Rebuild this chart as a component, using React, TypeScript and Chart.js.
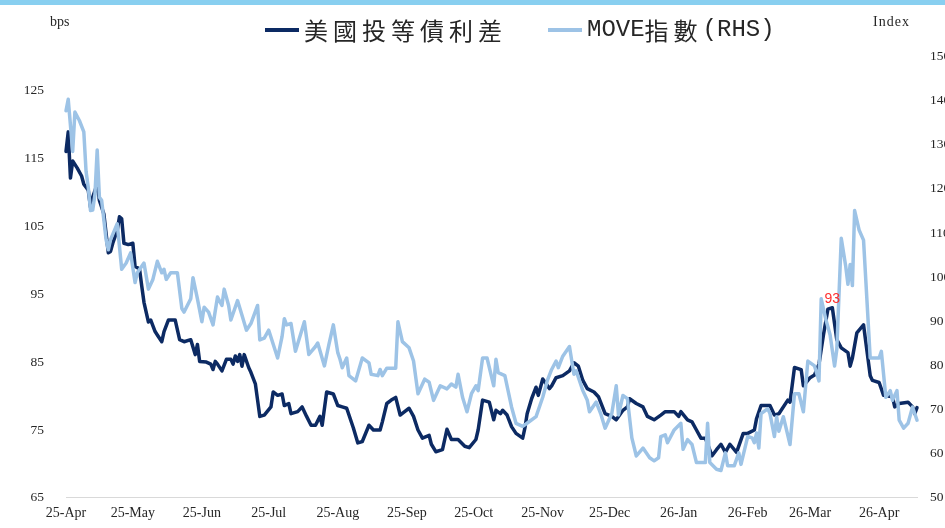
import React, { useEffect, useRef } from 'react';
import { Chart, registerables } from 'chart.js';

Chart.register(...registerables);

// x positions are days since 2025-04-01
const monthTickDays = [0, 30, 61, 91, 122, 153, 183, 214, 244, 275, 306, 334, 365];
const monthTickLabels = ['25-Apr', '25-May', '25-Jun', '25-Jul', '25-Aug', '25-Sep', '25-Oct', '25-Nov', '25-Dec', '26-Jan', '26-Feb', '26-Mar', '26-Apr'];
const leftTicks = [65, 75, 85, 95, 105, 115, 125];
const rightTicks = [50, 60, 70, 80, 90, 100, 110, 120, 130, 140, 150];

const spreadLabel = '美國投等債利差';
const spreadDays = [0, 1, 2, 3, 5, 7, 8, 10, 11, 12, 14, 15, 17, 18, 19, 20, 21, 23, 24, 25, 26, 28, 30, 31, 33, 34, 35, 37, 38, 40, 41, 43, 44, 46, 49, 51, 53, 56, 58, 59, 60, 63, 65, 66, 67, 68, 70, 72, 74, 75, 76, 77, 78, 79, 80, 82, 83, 85, 86, 87, 89, 92, 93, 95, 97, 98, 100, 101, 104, 106, 108, 110, 112, 114, 115, 117, 120, 122, 124, 126, 129, 131, 133, 136, 138, 141, 142, 144, 146, 148, 150, 152, 154, 156, 158, 160, 163, 164, 166, 169, 170, 171, 173, 176, 179, 181, 184, 185, 187, 190, 192, 193, 195, 196, 198, 200, 202, 205, 206, 207, 209, 211, 212, 214, 217, 218, 220, 223, 226, 228, 230, 232, 234, 237, 239, 242, 245, 247, 250, 252, 253, 256, 259, 261, 264, 267, 269, 273, 275, 276, 279, 281, 283, 285, 287, 290, 292, 294, 296, 298, 301, 304, 306, 309, 310, 312, 316, 318, 320, 324, 325, 327, 330, 331, 334, 336, 338, 340, 342, 344, 346, 348, 351, 352, 353, 355, 358, 359, 361, 362, 365, 367, 371, 372, 374, 378, 380, 381, 382];
const spreadValues = [116.0, 118.9, 112.1, 114.6, 113.6, 112.4, 111.2, 110.3, 107.8, 109.3, 111.2, 108.8, 106.8, 103.9, 101.1, 101.3, 102.5, 104.4, 106.4, 106.1, 102.5, 102.3, 102.5, 99.1, 98.7, 96.2, 93.8, 90.9, 91.2, 89.5, 89.0, 88.0, 89.5, 91.2, 91.2, 88.3, 88.0, 88.3, 86.1, 87.6, 85.1, 85.0, 84.7, 83.9, 85.1, 84.7, 83.7, 85.4, 85.4, 84.7, 85.9, 85.1, 86.1, 84.4, 86.1, 84.2, 83.5, 81.8, 79.4, 77.0, 77.2, 78.4, 80.6, 80.1, 80.3, 78.6, 78.9, 77.4, 77.7, 78.4, 77.0, 75.7, 75.7, 77.0, 75.7, 80.6, 80.3, 78.6, 78.4, 78.2, 75.3, 73.1, 73.3, 75.7, 75.0, 75.0, 76.2, 78.9, 79.4, 79.8, 77.2, 77.7, 78.2, 77.0, 75.0, 73.8, 74.2, 72.9, 71.8, 72.1, 73.6, 75.1, 73.6, 73.6, 72.6, 72.4, 73.6, 75.0, 79.4, 79.1, 76.5, 77.9, 77.4, 77.9, 77.2, 75.5, 74.5, 73.8, 75.3, 77.4, 79.6, 81.3, 80.1, 82.5, 81.1, 81.5, 82.7, 83.0, 83.7, 84.9, 84.4, 82.3, 81.1, 80.6, 79.9, 77.4, 77.0, 76.5, 77.9, 78.4, 79.6, 78.9, 78.4, 77.0, 76.5, 77.2, 77.7, 77.7, 77.0, 77.7, 76.5, 76.2, 75.0, 73.8, 73.8, 71.2, 72.1, 72.9, 71.7, 72.9, 71.7, 74.5, 74.5, 75.0, 76.7, 78.6, 78.6, 77.2, 77.4, 79.4, 79.1, 84.2, 83.9, 81.5, 82.7, 83.1, 84.7, 89.0, 92.8, 93.0, 88.3, 87.1, 86.4, 84.4, 85.6, 89.3, 90.5, 88.0, 83.0, 82.3, 82.0, 80.1, 79.9, 78.4, 78.9, 79.1, 78.4, 77.4, 78.3];

const moveLabelLatin1 = 'MOVE';
const moveLabelCjk = '指數';
const moveLabelLatin2 = '(RHS)';
const moveDays = [0, 1, 3, 4, 6, 8, 9, 10, 11, 12, 13, 14, 15, 16, 18, 19, 20, 23, 25, 27, 29, 31, 32, 35, 37, 39, 41, 43, 44, 45, 47, 50, 52, 53, 56, 57, 59, 61, 62, 64, 66, 68, 70, 71, 73, 74, 77, 79, 81, 83, 86, 87, 89, 91, 95, 97, 98, 99, 101, 103, 107, 109, 112, 113, 116, 118, 120, 122, 123, 124, 126, 127, 130, 133, 136, 137, 140, 141, 142, 144, 148, 149, 151, 154, 156, 158, 161, 163, 165, 168, 171, 173, 175, 176, 178, 180, 182, 184, 185, 187, 189, 192, 193, 194, 197, 200, 202, 205, 208, 211, 214, 216, 218, 220, 221, 223, 226, 228, 229, 232, 234, 235, 238, 240, 242, 245, 247, 248, 250, 252, 254, 256, 259, 262, 264, 266, 267, 269, 270, 273, 276, 277, 279, 281, 283, 287, 288, 289, 292, 294, 296, 297, 300, 302, 303, 306, 308, 309, 310, 311, 312, 315, 316, 318, 319, 320, 322, 325, 327, 329, 331, 333, 336, 338, 339, 341, 343, 345, 346, 348, 350, 351, 352, 353, 354, 356, 358, 361, 365, 366, 368, 370, 371, 373, 374, 376, 378, 380, 382];
const moveValues = [137.7, 140.3, 128.5, 137.4, 135.5, 132.9, 124.0, 120.3, 115.1, 115.2, 118.8, 128.8, 118.1, 117.4, 108.5, 106.2, 108.5, 112.1, 101.8, 103.2, 105.5, 98.8, 101.0, 103.2, 97.3, 99.5, 103.6, 101.0, 101.8, 99.5, 101.0, 101.0, 92.9, 92.1, 95.1, 99.9, 95.1, 89.9, 93.2, 92.1, 89.2, 95.5, 93.6, 97.3, 93.6, 90.3, 94.7, 91.4, 88.0, 89.5, 93.6, 85.8, 86.2, 88.0, 81.7, 86.6, 90.6, 89.2, 89.5, 83.2, 89.9, 82.5, 84.3, 85.1, 79.9, 84.7, 89.2, 82.9, 81.4, 79.5, 81.7, 77.7, 76.5, 81.7, 80.6, 78.0, 77.7, 79.1, 77.7, 79.4, 79.4, 89.9, 85.4, 84.0, 81.0, 73.6, 76.9, 76.2, 72.1, 75.4, 74.7, 75.8, 75.1, 78.0, 72.8, 69.5, 73.6, 75.4, 74.3, 81.7, 81.7, 75.4, 81.4, 78.4, 77.7, 70.6, 66.9, 66.2, 67.3, 68.4, 72.8, 76.5, 79.1, 81.0, 79.5, 82.1, 84.3, 78.0, 78.8, 74.3, 72.1, 69.5, 71.7, 69.1, 65.8, 69.1, 75.4, 68.8, 73.2, 72.5, 63.6, 59.5, 61.3, 59.1, 58.4, 59.1, 63.9, 64.3, 62.5, 65.4, 66.9, 61.0, 63.2, 62.1, 58.0, 58.0, 66.9, 58.0, 56.5, 56.2, 60.2, 57.3, 57.3, 60.2, 57.6, 63.9, 63.6, 62.5, 64.7, 61.3, 69.1, 70.2, 69.1, 63.9, 68.4, 65.1, 68.4, 62.1, 73.6, 73.6, 69.5, 81.0, 79.9, 76.5, 95.1, 90.6, 86.9, 79.9, 83.6, 108.8, 102.5, 98.4, 102.9, 98.1, 115.1, 110.7, 108.4, 81.7, 81.7, 83.2, 72.8, 74.3, 72.1, 74.3, 67.6, 65.8, 66.9, 70.6, 67.6];

const peakLabelDay = 344;
const peakLabelText = '93';
const leftAxisTitle = 'bps';
const rightAxisTitle = 'Index';

const DARK = '#0C2A63';
const LIGHT = '#9DC3E6';
const TICK_FONT = '"Liberation Serif", "Times New Roman", serif';
const CJK_FONT = '"Noto Sans CJK TC", "Noto Sans CJK SC", sans-serif';
const MONO_FONT = '"Liberation Mono", monospace';

const peakLabelPlugin = {
  id: 'peakLabel',
  afterDatasetsDraw(chart: any) {
    const xs = chart.scales.x;
    const ys = chart.scales.y;
    const idx = spreadDays.indexOf(peakLabelDay);
    if (idx < 0) return;
    const px = xs.getPixelForValue(peakLabelDay);
    const py = ys.getPixelForValue(spreadValues[idx]);
    const ctx = chart.ctx;
    ctx.save();
    ctx.font = '14px "Liberation Sans", Arial, sans-serif';
    ctx.fillStyle = '#FF2E2E';
    ctx.textAlign = 'center';
    ctx.textBaseline = 'alphabetic';
    ctx.fillText(peakLabelText, px, py - 5);
    ctx.restore();
  },
};

export default function App() {
  const canvasRef = useRef<HTMLCanvasElement | null>(null);

  useEffect(() => {
    if (!canvasRef.current) return;
    const chart = new Chart(canvasRef.current, {
      type: 'line',
      data: {
        datasets: [
          {
            label: moveLabelLatin1 + moveLabelCjk + moveLabelLatin2,
            data: moveDays.map((d, i) => ({ x: d, y: moveValues[i] })),
            yAxisID: 'y1',
            borderColor: LIGHT,
            backgroundColor: LIGHT,
            borderWidth: 3.5,
            pointRadius: 0,
            tension: 0,
            borderJoinStyle: 'round',
            borderCapStyle: 'round',
            clip: false,
            order: 0,
          },
          {
            label: spreadLabel,
            data: spreadDays.map((d, i) => ({ x: d, y: spreadValues[i] })),
            yAxisID: 'y',
            borderColor: DARK,
            backgroundColor: DARK,
            borderWidth: 3.5,
            pointRadius: 0,
            tension: 0,
            borderJoinStyle: 'round',
            borderCapStyle: 'round',
            clip: false,
            order: 1,
          },
        ],
      },
      options: {
        animation: false,
        responsive: false,
        maintainAspectRatio: false,
        layout: { padding: { top: 56.5, left: 0, right: 0, bottom: 0 } },
        plugins: { legend: { display: false }, tooltip: { enabled: false }, title: { display: false } },
        scales: {
          x: {
            type: 'linear',
            min: 0,
            max: 382,
            grid: { display: false, drawTicks: false },
            border: { display: true, color: '#D9D9D9', width: 1 },
            ticks: {
              autoSkip: false,
              maxRotation: 0,
              minRotation: 0,
              padding: 7,
              color: '#262626',
              font: { family: TICK_FONT, size: 14 },
              callback: (value: any) => {
                const i = monthTickDays.indexOf(Number(value));
                return i >= 0 ? monthTickLabels[i] : '';
              },
            },
            afterBuildTicks: (scale: any) => {
              scale.ticks = monthTickDays.map((v) => ({ value: v }));
            },
            afterFit: (scale: any) => {
              scale.height = 22;
            },
          },
          y: {
            type: 'linear',
            position: 'left',
            min: 65,
            max: 130,
            grid: { display: false, drawTicks: false },
            border: { display: false },
            ticks: {
              padding: 22,
              color: '#262626',
              font: { family: TICK_FONT, size: 13.5 },
            },
            afterBuildTicks: (scale: any) => {
              scale.ticks = leftTicks.map((v) => ({ value: v }));
            },
            afterFit: (scale: any) => {
              scale.width = 66;
            },
          },
          y1: {
            type: 'linear',
            position: 'right',
            min: 50,
            max: 150,
            grid: { display: false, drawTicks: false },
            border: { display: false },
            ticks: {
              padding: 13,
              color: '#262626',
              font: { family: TICK_FONT, size: 13.5 },
            },
            afterBuildTicks: (scale: any) => {
              scale.ticks = rightTicks.map((v) => ({ value: v }));
            },
            afterFit: (scale: any) => {
              scale.width = 28;
            },
          },
        },
      },
      plugins: [peakLabelPlugin],
    } as any);
    return () => chart.destroy();
  }, []);

  const legendLine = (color: string) => (
    <span style={{ display: 'inline-block', width: 34, height: 4, background: color, marginRight: 5 }} />
  );

  return (
    <div style={{ position: 'absolute', left: 0, top: 0, width: 945, height: 528, background: '#fff', overflow: 'hidden' }}>
      <canvas ref={canvasRef} width={945} height={528} style={{ position: 'absolute', left: 0, top: 0, width: 945, height: 528 }} />
      <div style={{ position: 'absolute', left: 0, top: 0, width: 945, height: 5, background: '#88CFF0' }} />
      <div style={{ position: 'absolute', left: 50, top: 14, fontFamily: TICK_FONT, fontSize: 14, lineHeight: '16px', color: '#262626' }}>{leftAxisTitle}</div>
      <div style={{ position: 'absolute', left: 873, top: 14, fontFamily: TICK_FONT, fontSize: 14, lineHeight: '16px', letterSpacing: 1, color: '#262626' }}>{rightAxisTitle}</div>
      <div style={{ position: 'absolute', left: 265, top: 18, height: 24, display: 'flex', alignItems: 'center', whiteSpace: 'nowrap', color: '#262626' }}>
        {legendLine(DARK)}
        <span style={{ fontFamily: CJK_FONT, fontSize: 24, lineHeight: '24px', letterSpacing: 5 }}>{spreadLabel}</span>
      </div>
      <div style={{ position: 'absolute', left: 548, top: 18, height: 24, display: 'flex', alignItems: 'center', whiteSpace: 'nowrap', color: '#262626' }}>
        {legendLine(LIGHT)}
        <span style={{ fontFamily: MONO_FONT, fontSize: 24, lineHeight: '24px' }}>{moveLabelLatin1}</span>
        <span style={{ fontFamily: CJK_FONT, fontSize: 24, lineHeight: '24px', letterSpacing: 5 }}>{moveLabelCjk}</span>
        <span style={{ fontFamily: MONO_FONT, fontSize: 24, lineHeight: '24px' }}>{moveLabelLatin2}</span>
      </div>
    </div>
  );
}
